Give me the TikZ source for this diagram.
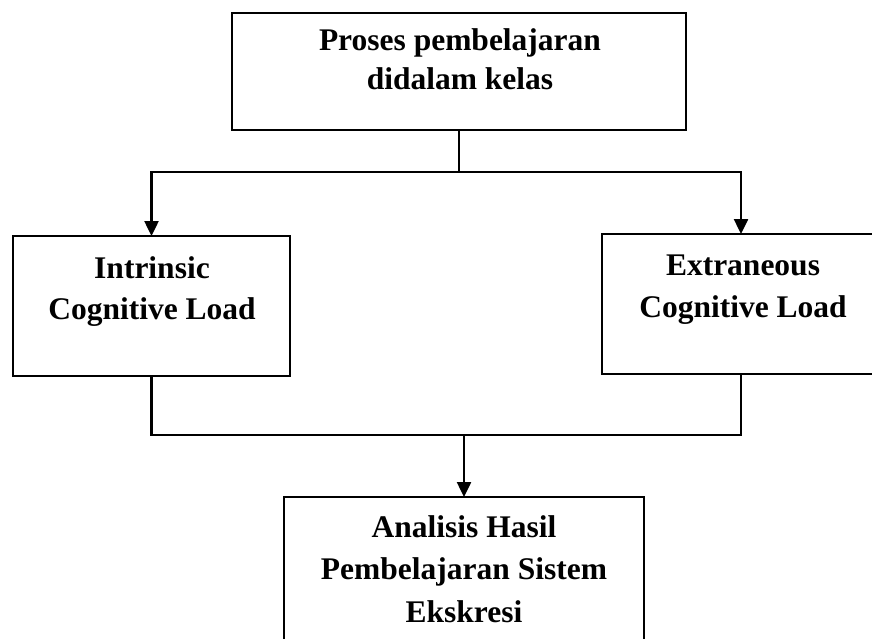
\documentclass[tikz,border=0pt]{standalone}
\usepackage{fontspec}
\setmainfont{Liberation Serif}
\usetikzlibrary{arrows.meta}
\begin{document}
\begin{tikzpicture}[x=1pt,y=-1pt,
  box/.style={draw=black,line width=2.5pt,inner sep=0pt,outer sep=0pt,anchor=north west},
  lbl/.style={align=center,anchor=base,inner sep=0pt,font=\fontsize{31.5}{#1}\selectfont\bfseries},
  lbl/.default=42,
  conn/.style={draw=black,line width=2.5pt},
  arr/.style={conn,-{Triangle[length=15pt,width=14pt]}}]
\useasboundingbox (0,0) rectangle (872,639);
\clip (0,0) rectangle (872,639);
\node[box,minimum width=454pt,minimum height=117pt] (top) at (232,13) {};
\node[box,minimum width=277pt,minimum height=140pt] (left) at (13,236) {};
\node[box,minimum width=278pt,minimum height=140pt] (right) at (602,234) {};
\node[box,minimum width=360pt,minimum height=170pt] (bottom) at (284,497) {};
\node[lbl=39] (toptext) at (460,90) {Proses pembelajaran\\didalam kelas};
\node[lbl=41] (lefttext) at (152,319) {Intrinsic\\Cognitive Load};
\node[lbl=42] (righttext) at (743,317) {Extraneous\\Cognitive Load};
\node[lbl=42.5] (bottomtext) at (464,622) {Analisis Hasil\\Pembelajaran Sistem\\Ekskresi};
\coordinate (j1) at (459,172);
\coordinate (j2) at (464,435);
\draw[conn] (top.south) -- (j1);
\draw[arr] (j1) -| (left.north);
\draw[arr] (j1) -| (right.north);
\draw[conn] (left.south) |- (j2);
\draw[conn] (j2) -| (right.south);
\draw[arr] (j2) -- (bottom.north);
\end{tikzpicture}
\end{document}
